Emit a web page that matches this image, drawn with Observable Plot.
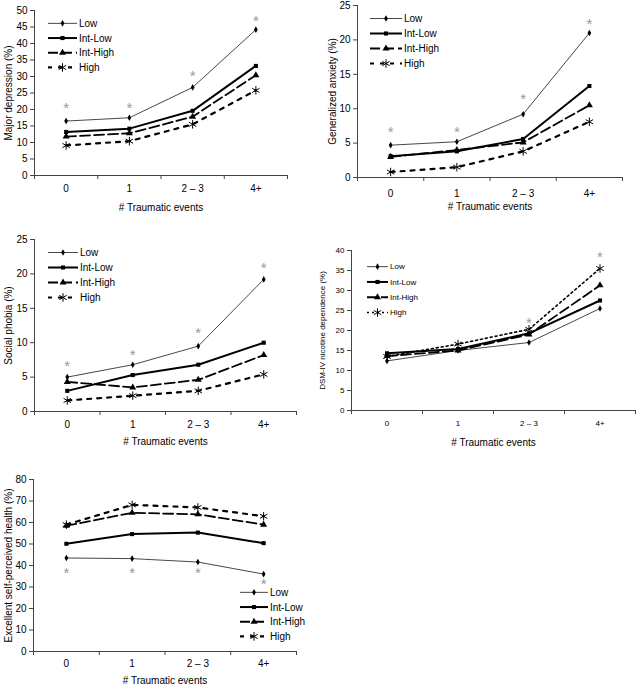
<!DOCTYPE html>
<html><head><meta charset="utf-8">
<script src="https://cdn.jsdelivr.net/npm/d3@7"></script>
<script src="https://cdn.jsdelivr.net/npm/@observablehq/plot@0.6"></script>
<style>
body{margin:0;background:#fff;font-family:"Liberation Sans",Arial,sans-serif;}
#root{position:relative;width:640px;height:684px;overflow:hidden;}
#root svg{position:absolute;overflow:visible;}
</style></head><body><div id="root"></div>
<script>
// ---- data ----
const categories = ["0", "1", "2 – 3", "4+"];
const groups = ["Low", "Int-Low", "Int-High", "High"];

// values per group (Low, Int-Low, Int-High, High), one per category
const majorDepression = [[16.5, 17.5, 26.7, 44.2], [13.2, 14.2, 19.6, 33.2], [11.8, 12.8, 17.8, 30.4], [9.1, 10.4, 15.5, 25.8]];
const majorDepressionSig = [21.5, 21.5, 31.2, 47.9];
const majorDepressionTicks = [0, 5, 10, 15, 20, 25, 30, 35, 40, 45, 50];

const generalizedAnxiety = [[4.7, 5.2, 9.2, 21.0], [3.1, 3.8, 5.6, 13.3], [3.0, 4.0, 5.1, 10.5], [0.8, 1.5, 3.8, 8.1]];
const generalizedAnxietySig = [7.2, 7.2, 11.9, 22.8];
const generalizedAnxietyTicks = [0, 5, 10, 15, 20, 25];

const socialPhobia = [[5.0, 6.8, 9.5, 19.2], [3.0, 5.3, 6.8, 10.0], [4.3, 3.5, 4.6, 8.2], [1.6, 2.3, 3.0, 5.4]];
const socialPhobiaSig = [7.1, 8.7, 11.9, 21.4];
const socialPhobiaTicks = [0, 5, 10, 15, 20, 25];

const nicotine = [[12.4, 15.0, 17.0, 25.5], [14.3, 15.4, 19.3, 27.5], [13.6, 15.0, 19.0, 31.3], [13.5, 16.6, 20.3, 35.5]];
const nicotineSig = [null, null, 22.75, 39.25];
const nicotineTicks = [0, 5, 10, 15, 20, 25, 30, 35, 40];

const health = [[43.5, 43.2, 41.6, 36.0], [50.1, 54.6, 55.3, 50.4], [58.5, 64.5, 63.8, 59.0], [59.0, 68.2, 67.0, 62.9]];
const healthSig = [38.1, 38.1, 38.1, 33.0];
const healthTicks = [0, 10, 20, 30, 40, 50, 60, 70, 80];

// ---- styles ----
const seriesStyle = {
  "Low":      {stroke: "#333", width: 0.9, dash: null,   symbol: "diamond",  d3sym: d3.symbolDiamond,  r: 2.0, filled: true},
  "Int-Low":  {stroke: "#000", width: 2.0, dash: null,   symbol: "square",   d3sym: d3.symbolSquare,   r: 2.3, filled: true},
  "Int-High": {stroke: "#000", width: 1.8, dash: "10,4", symbol: "triangle", d3sym: d3.symbolTriangle, r: 2.6, filled: true},
  "High":     {stroke: "#000", width: 2.2, dash: "4,6",  symbol: "asterisk", d3sym: d3.symbolAsterisk, r: 4.0, filled: false}
};

const panels = [
  {values: majorDepression, sig: majorDepressionSig, ticks: majorDepressionTicks, yLabel: "Major depression (%)",
   box: [0, 0, 320, 220], m: [10, 33, 45, 34], font: 10, xPad: 9, xLab: 35, yLab: 30,
   legend: {x: 48, y: 23, dy: 14.7, len: 29, font: 10}},
  {values: generalizedAnxiety, sig: generalizedAnxietySig, ticks: generalizedAnxietyTicks, yLabel: "Generalized anxiety (%)",
   box: [320, 0, 320, 220], m: [5, 18, 43, 37], font: 10, xPad: 12, xLab: 32, yLab: 29,
   legend: {x: 370, y: 18, dy: 15, len: 32, font: 10}},
  {values: socialPhobia, sig: socialPhobiaSig, ticks: socialPhobiaTicks, yLabel: "Social phobia (%)",
   box: [0, 220, 320, 240], m: [19, 24, 49, 34], font: 10, xPad: 9, xLab: 33, yLab: 30,
   legend: {x: 48, y: 252, dy: 15, len: 30, font: 10}},
  {values: nicotine, sig: nicotineSig, ticks: nicotineTicks, yLabel: "DSM-IV nicotine dependence (%)",
   box: [320, 220, 320, 240], m: [30, 5, 50, 31], font: 8, xPad: 10, xLab: 35, yLab: 32, nicotine: true,
   legend: {x: 367, y: 267, dy: 15.3, len: 21, font: 8}},
  {values: health, sig: healthSig, ticks: healthTicks, yLabel: "Excellent self-perceived health (%)",
   box: [0, 450, 320, 234], m: [29, 24, 33, 33], font: 10, xPad: 8, xLab: 32, yLab: 29,
   legend: {x: 240, y: 592, dy: 14.7, len: 28, font: 10}}
];

function styleOf(g, p) {
  const s = Object.assign({}, seriesStyle[g]);
  if (p.nicotine && g === "High") { s.dash = "2,3"; s.width = 1.6; }
  return s;
}

const root = document.getElementById("root");

panels.forEach(p => {
  const rows = [];
  p.values.forEach((vals, gi) => vals.forEach((v, i) => rows.push({g: groups[gi], i, v})));
  const sigRows = p.sig.map((v, i) => ({i, v})).filter(d => d.v != null);
  const [bx, by, bw, bh] = p.box;
  const [mt, mr, mb, ml] = p.m;
  const marks = [
    Plot.axisY({ticks: p.ticks, tickSize: 4, tickPadding: 3, fontSize: p.font, label: p.yLabel,
      labelAnchor: "center", labelArrow: "none", labelOffset: p.yLab, stroke: "#444"}),
    Plot.axisX({ticks: [0, 1, 2, 3], tickSize: 0, tickPadding: p.xPad, tickFormat: i => categories[i], fontSize: p.font,
      label: null}),
    Plot.axisX({ticks: [-0.5, 0.5, 1.5, 2.5, 3.5], tickSize: 4, tickFormat: () => "", stroke: "#444", fontSize: 10,
      label: "# Traumatic events", labelAnchor: "center", labelArrow: "none", labelOffset: p.xLab}),
    Plot.ruleX([-0.5], {stroke: "#444"}),
    Plot.ruleY([0], {stroke: "#444"})
  ];
  groups.forEach(g => {
    const s = styleOf(g, p);
    const d = rows.filter(r => r.g === g);
    marks.push(Plot.line(d, {x: "i", y: "v", stroke: s.stroke, strokeWidth: s.width, strokeDasharray: s.dash || undefined}));
    marks.push(Plot.dot(d, s.filled
      ? {x: "i", y: "v", symbol: s.symbol, r: s.r, fill: "#000", stroke: "none"}
      : {x: "i", y: "v", symbol: s.symbol, r: s.r, fill: "none", stroke: "#000", strokeWidth: 1}));
  });
  marks.push(Plot.text(sigRows, {x: "i", y: "v", text: () => "*", fill: "#999", fontSize: 15, dy: 4}));

  const chart = Plot.plot({
    width: bw, height: bh,
    marginTop: mt, marginRight: mr, marginBottom: mb, marginLeft: ml,
    x: {type: "linear", domain: [-0.5, 3.5]},
    y: {domain: [0, p.ticks[p.ticks.length - 1]]},
    style: {fontFamily: "Liberation Sans, Arial, sans-serif", fontSize: p.font + "px", color: "#000", background: "transparent", overflow: "visible"},
    marks
  });
  chart.style.left = bx + "px";
  chart.style.top = by + "px";
  root.appendChild(chart);

  // legend
  const L = p.legend;
  const svg = d3.select(root).append("svg")
    .attr("width", 100).attr("height", L.dy * 4 + 4)
    .style("left", L.x + "px").style("top", (L.y - L.dy / 2) + "px")
    .style("font-family", "Liberation Sans, Arial, sans-serif").style("font-size", L.font + "px");
  groups.forEach((g, k) => {
    const s = styleOf(g, p);
    const cy = L.dy / 2 + k * L.dy;
    svg.append("line").attr("x1", 0).attr("x2", L.len).attr("y1", cy).attr("y2", cy)
      .attr("stroke", s.stroke).attr("stroke-width", s.width).attr("stroke-dasharray", s.dash);
    svg.append("path").attr("transform", `translate(${L.len / 2},${cy})`)
      .attr("d", d3.symbol(s.d3sym, Math.PI * s.r * s.r)())
      .attr("fill", s.filled ? "#000" : "none").attr("stroke", s.filled ? "none" : "#000").attr("stroke-width", 1);
    svg.append("text").attr("x", L.len + 2).attr("y", cy).attr("dy", "0.35em").text(g);
  });
});
</script>
</body></html>
